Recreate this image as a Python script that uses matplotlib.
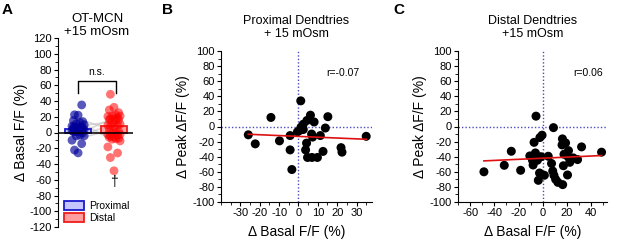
import matplotlib.pyplot as plt
import numpy as np

plt.rcParams['font.family'] = ['Liberation Sans', 'DejaVu Sans']
plt.rcParams['axes.unicode_minus'] = False

# Panel B: proximal dendrites (basal change vs peak change)
prox_basal = [-25.9, -22.3, -14.2, -9.8, -4.3, -4.3, -3.4, 1.2, -0.5, 1.3, 2.5, 2.5, 0.8, 4.4, 6.2,
              8.1, 13.9, 15.2, 6.8, 7.3, 11.3, 35.0, 4.2, 3.7, 12.7, 22.0, 22.5, 4.7, 7.0, 9.8]
prox_peak = [-11, -23, 12, -19, -12, -31, -57, 34, -7, -1, -4, 3, -5, 8, 15,
             6, -2, 13, -10, -14, -12, -13, -22, -31, -33, -28, -34, -41, -41, -41]

# Panel C: distal dendrites
dist_basal = [-5.6, 8.8, -0.6, -2.4, -7.2, 16.2, 18.8, 15.9, 32.0, -26.0, 21.2, -6.1, 17.5, 48.5,
              -10.7, 4.5, -1.4, 21.0, -8.5, -4.5, 25.2, 28.7, 22.3, -31.8, -8.0, 7.2, 17.0, -48.6,
              -18.3, 8.2, -2.7, 1.3, 9.2, 20.4, -3.7, 10.6, 12.5, 16.4]
dist_peak = [13.7, -1.5, -11.5, -14.6, -21, -16.4, -21.7, -24.4, -27, -32.8, -32, -35, -36.8, -34,
             -39, -39.4, -40, -40.3, -44.7, -44.7, -41.6, -43.8, -47.4, -51.4, -51, -49, -52, -60,
             -58, -59, -61.6, -64.6, -64.6, -64.2, -71.3, -70, -74, -77]

# linear fits (slope, intercept) and r values
fit_prox = (-0.109, -13.1)
fit_dist = (0.073, -42.0)
r_prox = 'r=-0.07'
r_dist = 'r=0.06'

# Panel A: mean bars and paired cell lines
groups = ['Proximal', 'Distal']
bar_means = [4, 8]
pair_prox = [15, 9, 4, -2, -6, 11, 1]
pair_dist = [5, 13, -4, 8, 2, -7, 16]

fig = plt.figure(figsize=(6.17, 2.42), dpi=100)
W, H = 617, 242


def ax_px(l, r, t, b):
    return fig.add_axes([l / W, (H - b) / H, (r - l) / W, (b - t) / H])


def jitter(vals):
    order = np.argsort(vals)
    pattern = [0.0, -0.1, 0.1, -0.17, 0.17, -0.05, 0.05, 0.13, -0.13]
    offs = np.zeros(len(vals))
    for k, i in enumerate(order):
        offs[i] = pattern[k % len(pattern)]
    return offs


tick_fs = 8
lab_fs = 10
title_fs = 9

# ---------- Panel A ----------
axA = ax_px(58, 133, 38, 227)
axA.set_xlim(0.44, 2.53)
axA.set_ylim(-120, 120)
for y0, y1 in zip(pair_prox, pair_dist):
    axA.plot([1.15, 1.85], [y0, y1], color='#c8c8c8', lw=1.2, alpha=0.7, zorder=1)
axA.bar([1, 2], bar_means, width=0.72, color=['#c4c4ff', '#ff9e9e'],
        edgecolor=['#1a1acc', '#ee1c1c'], linewidth=1.3, zorder=2)
axA.scatter(1 + jitter(prox_basal), prox_basal, s=40, color='#000099', alpha=0.65,
            edgecolors='none', zorder=3)
axA.scatter(2 + jitter(dist_basal), dist_basal, s=40, color='#ff0000', alpha=0.55,
            edgecolors='none', zorder=3)
axA.axhline(0, color='black', lw=1.1, zorder=4)
axA.plot([1.0, 1.0, 2.05, 2.05], [50, 66, 66, 50], color='black', lw=1)
axA.text(1.52, 70, 'n.s.', ha='center', va='bottom', fontsize=7.5)
axA.text(2.0, -63, '†', ha='center', va='center', fontsize=10)
axA.spines[['top', 'right', 'bottom']].set_visible(False)
axA.set_xticks([])
axA.set_yticks(np.arange(-120, 121, 20))
axA.set_yticks(np.arange(-110, 120, 20), minor=True)
axA.tick_params(axis='y', labelsize=tick_fs, length=3, pad=1.5)
axA.tick_params(axis='y', which='minor', length=2)
axA.set_ylabel('Δ Basal F/F (%)', fontsize=lab_fs, labelpad=1)
axA.set_title('OT-MCN\n+15 mOsm', fontsize=title_fs + 0.5, pad=1, x=0.52, linespacing=1.15)
hA = [plt.Rectangle((0, 0), 1, 1, fc='#c4c4ff', ec='#1a1acc', lw=1.3),
      plt.Rectangle((0, 0), 1, 1, fc='#ff9e9e', ec='#ee1c1c', lw=1.3)]
axA.legend(hA, groups, loc='lower left', bbox_to_anchor=(0.08, 0.02), frameon=False,
           fontsize=7.5, borderpad=0, borderaxespad=0, handlelength=1.9, handleheight=0.95,
           handletextpad=0.5, labelspacing=0.2)
fig.text(2 / W, 1 - 10 / H, 'A', fontsize=11, fontweight='bold', va='center')


# ---------- Panels B and C ----------
def scatter_panel(ax, xs, ys, fit, rtxt, rpos, xlim, xmaj, xmin_step, title):
    ax.set_xlim(*xlim)
    ax.set_ylim(-100, 100)
    ax.axvline(0, color='#4b4bc0', lw=1, ls=(0, (1, 1.5)), zorder=1)
    ax.axhline(0, color='#4b4bc0', lw=1, ls=(0, (1, 1.5)), zorder=1)
    ax.scatter(xs, ys, s=42, color='black', edgecolors='none', zorder=2)
    xx = np.array([min(xs), max(xs)])
    ax.plot(xx, fit[0] * xx + fit[1], color='#dd1111', lw=1.2, zorder=3)
    ax.text(rpos[0], rpos[1], rtxt, fontsize=7.5, ha='center', va='center')
    ax.spines[['top', 'right']].set_visible(False)
    ax.set_xticks(xmaj)
    ax.set_xticks(np.arange(xlim[0] - xlim[0] % xmin_step, xlim[1], xmin_step), minor=True)
    ax.set_yticks(np.arange(-100, 101, 20))
    ax.set_yticks(np.arange(-90, 100, 20), minor=True)
    ax.tick_params(labelsize=tick_fs, length=3, pad=1.5)
    ax.tick_params(which='minor', length=2)
    ax.set_xlabel('Δ Basal F/F (%)', fontsize=lab_fs, labelpad=5)
    ax.set_ylabel('Δ Peak ΔF/F (%)', fontsize=lab_fs, labelpad=2)
    ax.set_title(title, fontsize=title_fs, pad=10, linespacing=1.15)


axB = ax_px(221, 372, 51, 202)
scatter_panel(axB, prox_basal, prox_peak, fit_prox, r_prox, (23, 71), (-38, 38),
              np.arange(-30, 31, 10), 5, 'Proximal Dendtries\n+ 15 mOsm')
fig.text(162 / W, 1 - 10 / H, 'B', fontsize=11, fontweight='bold', va='center')

axC = ax_px(458, 607, 51, 202)
scatter_panel(axC, dist_basal, dist_peak, fit_dist, r_dist, (37, 71), (-66, 53),
              np.arange(-60, 41, 20), 10, 'Distal Dendtries\n+15 mOsm')
fig.text(393 / W, 1 - 10 / H, 'C', fontsize=11, fontweight='bold', va='center')

fig.savefig('out.png', dpi=100)
